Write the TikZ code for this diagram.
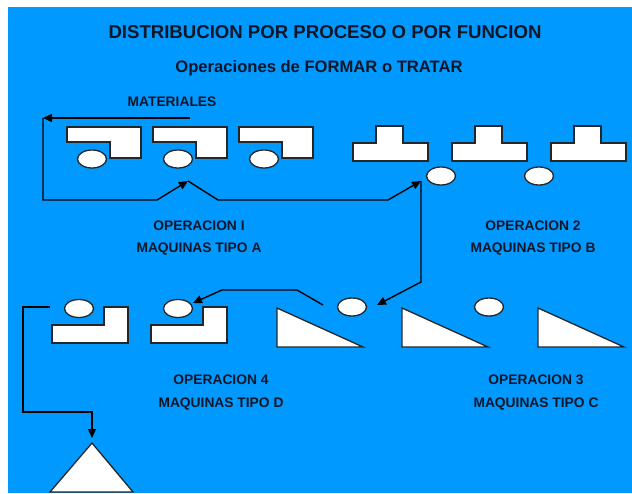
\documentclass[tikz,border=0pt]{standalone}
\usepackage{fontspec}
\setmainfont{Liberation Sans}
\usetikzlibrary{arrows.meta,shapes.geometric}
\definecolor{bg}{HTML}{0099FF}
\definecolor{ink}{HTML}{0D1626}
\begin{document}
\begin{tikzpicture}[x=1pt,y=-1pt,
  mach/.style={draw=black!85,fill=white,line width=1.3pt,line join=miter},
  part/.style={ellipse,draw=black!85,fill=white,line width=1.3pt,minimum width=29pt,minimum height=18pt,inner sep=0pt},
  flow/.style={draw=black,line width=1.4pt,line join=miter,-{Triangle[length=9pt,width=8pt]}},
  lbl/.style={font=\bfseries\fontsize{13.8}{15}\selectfont,text=ink,inner sep=0pt,anchor=base},
]
\useasboundingbox (0,0) rectangle (632,493);
\fill[bg] (8,7) rectangle (632,493);

% titles
\node[font=\bfseries\fontsize{18.6}{20}\selectfont,text=ink,inner sep=0pt,anchor=base] (title) at (325,38) {DISTRIBUCION POR PROCESO O POR FUNCION};
\node[font=\bfseries\fontsize{16.6}{18}\selectfont,text=ink,inner sep=0pt,anchor=base] (sub) at (319,72) {Operaciones de FORMAR o TRATAR};
\node[lbl] (mat) at (172,106) {MATERIALES};

% machines type A
\foreach \x/\n in {67/1,153/2,239/3}{
  \draw[mach] (\x,127) -- ++(74,0) -- ++(0,31) -- ++(-31,0) -- ++(0,-16) -- ++(-43,0) -- cycle;
  \node[part] (a\n) at (\x+25,159) {};
}
% machines type B
\foreach \x in {353,452,551}{
  \draw[mach] (\x,161) -- ++(75,0) -- ++(0,-18) -- ++(-25,0) -- ++(0,-17) -- ++(-27,0) -- ++(0,17) -- ++(-23,0) -- cycle;
}
\node[part] (b1) at (441,176) {};
\node[part] (b2) at (539,176) {};

% machines type D
\foreach \x/\n/\ex in {52/1/79,151/2/178}{
  \draw[mach] (\x,343) -- ++(76,0) -- ++(0,-36) -- ++(-24,0) -- ++(0,18) -- ++(-52,0) -- cycle;
  \node[part] (d\n) at (\ex,308.5) {};
}
% machines type C
\foreach \x in {277,402,538}{
  \draw[mach] (\x,308) -- (\x+86,347) -- (\x,347) -- cycle;
}
\node[part] (c1) at (352,307) {};
\node[part] (c2) at (489,307) {};

% final storage
\draw[mach] (92,443) -- (133,492) -- (50,492) -- cycle;
\coordinate (store) at (92,438);

% labels
\node[lbl] (opA1) at (199,230) {OPERACION I};
\node[lbl] (opA2) at (199,252) {MAQUINAS TIPO A};
\node[lbl] (opB1) at (533,230) {OPERACION 2};
\node[lbl] (opB2) at (533,252) {MAQUINAS TIPO B};
\node[lbl] (opD1) at (221,384) {OPERACION 4};
\node[lbl] (opD2) at (221,407) {MAQUINAS TIPO D};
\node[lbl] (opC1) at (536,384) {OPERACION 3};
\node[lbl] (opC2) at (536,407) {MAQUINAS TIPO C};

% flow coordinates
\coordinate (m0) at (190,118);
\coordinate (m1) at (43,118);
\coordinate (ain) at (188,181);
\coordinate (bin) at (421,181);
\coordinate (cin) at (377,305);
\coordinate (cout) at (323,305);
\coordinate (din) at (193,303);
\coordinate (dout) at (50,307);

% flows
\draw[flow] (m0) -- (m1);
\draw[flow] (m1) |- (157,200) -- (ain);
\draw[flow] (ain) -- (218,200) -- (388,200) -- (bin);
\draw[flow] (bin) -- (421,282) -- (cin);
\draw[flow] (cout) -- (297,290) -- (222,290) -- (din);
\draw[flow] (dout) -| (23,412) -| (store);
\end{tikzpicture}
\end{document}
